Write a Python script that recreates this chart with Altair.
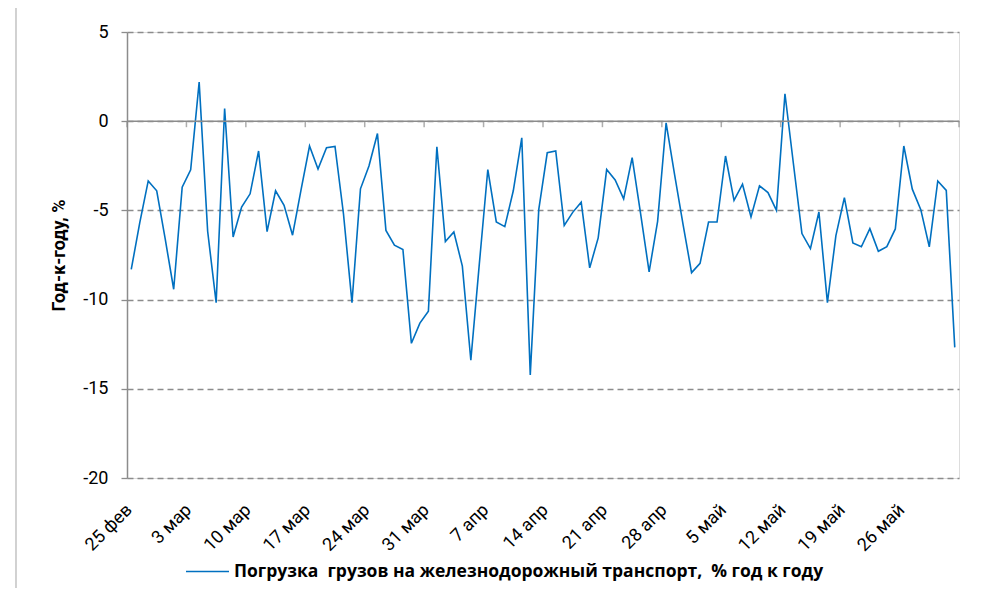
import json
import altair as alt
import pandas as pd

# Daily railway loading, % y/y, 25 Feb 2020 .. 1 Jun 2020
values = [
    -8.31, -5.7, -3.35, -3.9, -6.6, -9.42, -3.7, -2.73, 2.19, -6.17,
    -10.17, 0.71, -6.49, -4.81, -4.07, -1.67, -6.19, -3.90, -4.72, -6.39,
    -3.85, -1.39, -2.68, -1.49, -1.41, -5.2, -10.17, -3.79, -2.51, -0.69,
    -6.12, -6.95, -7.19, -12.45, -11.32, -10.65, -1.43, -6.75, -6.21, -8.12,
    -13.40, -8.0, -2.71, -5.65, -5.91, -3.90, -0.93, -14.22, -4.96, -1.77,
    -1.67, -5.84, -5.11, -4.54, -8.22, -6.54, -2.71, -3.29, -4.35, -2.04,
    -5.2, -8.44, -5.61, -0.09, -3.0, -5.8, -8.49, -7.97, -5.65, -5.65,
    -1.95, -4.44, -3.53, -5.37, -3.62, -4.0, -5.0, 1.54, -2.4, -6.30,
    -7.14, -5.09, -10.17, -6.41, -4.28, -6.82, -7.04, -6.02, -7.29, -7.03,
    -6.04, -1.39, -3.81, -4.96, -7.04, -3.35, -3.88, -12.68,
]
tick_labels = ["25 фев", "3 мар", "10 мар", "17 мар", "24 мар", "31 мар", "7 апр",
               "14 апр", "21 апр", "28 апр", "5 май", "12 май", "19 май", "26 май"]
y_ticks = [5, 0, -5, -10, -15, -20]
# double spaces kept visible with a no-break space
series_name = "Погрузка \u00a0грузов на железнодорожный транспорт, \u00a0% год к году"
y_title = "Год-к-году, %"

FONT = "Roboto"
LEGEND_FONT = "Open Sans"
GRAY = "#8c8c8c"
BLUE = "#0070C0"

n = len(values)
df = pd.DataFrame({"day": [i + 0.5 for i in range(n)], "value": values, "series": series_name})
week_df = pd.DataFrame({"day": list(range(0, n + 1, 7)), "zero": 0})
zero_df = pd.DataFrame({"zero": [0]})

label_expr = "%s[round(datum.value / 7)]" % json.dumps(tick_labels, ensure_ascii=False)

x_scale = alt.Scale(domain=[0, n], nice=False, zero=False)
y_scale = alt.Scale(domain=[-20, 5], nice=False, zero=False)

x_enc = alt.X("day:Q", scale=x_scale, axis=alt.Axis(
    values=[7 * k for k in range(len(tick_labels))], labelExpr=label_expr,
    labelAngle=-45, labelAlign="right", labelBaseline="middle", labelPadding=29,
    labelOffset=2, ticks=False, domain=False, grid=False, title=None,
    labelFont=FONT, labelFontSize=18, labelColor="#000000", labelOverlap=False))
y_enc = alt.Y("value:Q", scale=y_scale, axis=alt.Axis(
    values=y_ticks, labelExpr="'' + datum.value",
    grid=True, gridDash=[6, 4], gridColor=GRAY, gridWidth=1.3,
    domainColor=GRAY, domainWidth=1.5, tickColor=GRAY, tickSize=6, tickWidth=1.3,
    labelPadding=13, labelFont=FONT, labelFontSize=18, labelColor="#000000",
    title=y_title, titleFont=FONT, titleFontSize=18, titleFontWeight="bold",
    titleColor="#000000", titlePadding=14))

border = alt.Chart(zero_df).mark_rect(fill=None, stroke="#b4b4b4", strokeWidth=1.2, clip=False).encode(
    x=alt.value(-111), x2=alt.value(847), y=alt.value(-29), y2=alt.value(640))

zero_rule = alt.Chart(zero_df).mark_rule(color=GRAY, strokeWidth=1.5).encode(
    y=alt.Y("zero:Q", scale=y_scale))

week_ticks = alt.Chart(week_df).mark_tick(orient="vertical", size=6, thickness=1.5,
                                          color=GRAY, yOffset=3).encode(
    x=alt.X("day:Q", scale=x_scale), y=alt.Y("zero:Q", scale=y_scale))

line = alt.Chart(df).mark_line(strokeWidth=1.6).encode(
    x=x_enc, y=y_enc,
    color=alt.Color("series:N", scale=alt.Scale(range=[BLUE]), legend=alt.Legend(
        title=None, orient="none", legendX=58, legendY=517, symbolType="stroke",
        symbolSize=1849, symbolStrokeWidth=1.6, labelFont=LEGEND_FONT, labelFontSize=17.5,
        labelFontWeight="bold", labelColor="#000000", labelLimit=800, labelOffset=4)))

chart = alt.layer(border, line, zero_rule, week_ticks).properties(
    width=832, height=446,
    autosize=alt.AutoSizeParams(type="none"),
    padding={"left": 119, "top": 24, "right": 14, "bottom": 110},
).configure_view(stroke=None).configure(background="white")

chart.save("out.html", embed_options={"renderer": "svg", "actions": False})
